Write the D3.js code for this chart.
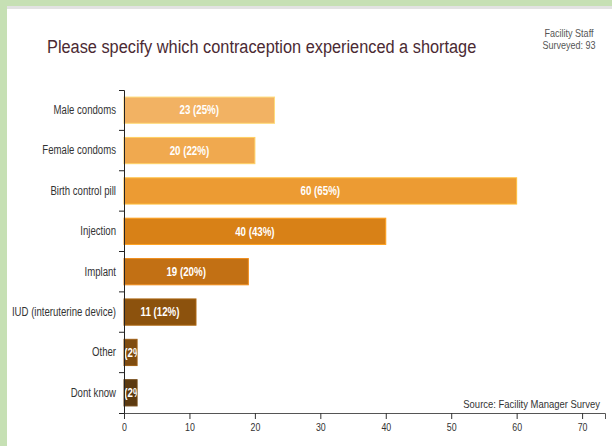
<!DOCTYPE html>
<html>
<head>
<meta charset="utf-8">
<script src="https://cdn.jsdelivr.net/npm/d3@7"></script>
<style>
  body { margin: 0; background: #fff; }
  text { font-family: "Liberation Sans", Arial, sans-serif; }
</style>
</head>
<body>
<div id="chart"></div>
<script>
// data
var categories = ["Male condoms", "Female condoms", "Birth control pill", "Injection",
                  "Implant", "IUD (interuterine device)", "Other", "Dont know"];
var counts = [23, 20, 60, 40, 19, 11, 2, 2];
var percents = [25, 22, 65, 43, 20, 12, 2, 2];
var barColors = ["#f2b263", "#f0a94f", "#ec9b33", "#d88117", "#c27014", "#8c520d", "#7f4c10", "#5c3a10"];
var xTicks = [0, 10, 20, 30, 40, 50, 60, 70];

var rows = categories.map(function(c, i) {
  return {name: c, n: counts[i], pct: percents[i], color: barColors[i]};
});

var W = 612, H = 446;
var margin = {top: 90, right: 7, bottom: 33, left: 124};

// the original font is a narrow sans, so squeeze the text horizontally
function squeeze(sel, k) {
  sel.each(function() {
    var len = this.getComputedTextLength();
    d3.select(this)
      .attr("textLength", len * k)
      .attr("lengthAdjust", "spacingAndGlyphs");
  });
}

var svg = d3.select("#chart")
  .append("svg")
    .attr("width", W)
    .attr("height", H);

// green frame at the top and left, grey shadow line
svg.append("rect").attr("x", 0).attr("y", 0).attr("width", W).attr("height", H).attr("fill", "#c6e0b4");
svg.append("rect").attr("x", 7).attr("y", 6).attr("width", W - 7).attr("height", H - 6).attr("fill", "#e2e2e2");
svg.append("rect").attr("x", 7).attr("y", 9).attr("width", W - 7).attr("height", H - 9).attr("fill", "#ffffff");

var x = d3.scaleLinear()
  .domain([0, d3.max(counts) * 1.225])
  .range([margin.left, W - margin.right]);

var y = d3.scaleBand()
  .domain(categories)
  .range([margin.top, H - margin.bottom])
  .paddingInner(0.35)
  .paddingOuter(0.175);

// title
svg.append("text")
  .attr("x", 47)
  .attr("y", 53)
  .style("font-size", "18px")
  .style("fill", "#4b2a33")
  .text("Please specify which contraception experienced a shortage")
  .call(squeeze, 0.907);

svg.append("text")
  .attr("x", 569)
  .attr("y", 37)
  .attr("text-anchor", "middle")
  .style("font-size", "10.5px")
  .style("fill", "#555")
  .text("Facility Staff")
  .call(squeeze, 0.86);
svg.append("text")
  .attr("x", 569)
  .attr("y", 49)
  .attr("text-anchor", "middle")
  .style("font-size", "10.5px")
  .style("fill", "#555")
  .text("Surveyed: 93")
  .call(squeeze, 0.86);

// bars, each label clipped to its bar
var defs = svg.append("defs");
defs.selectAll("clipPath")
  .data(rows)
  .enter()
  .append("clipPath")
    .attr("id", function(d, i) { return "clip" + i; })
  .append("rect")
    .attr("x", x(0))
    .attr("y", function(d) { return y(d.name); })
    .attr("width", function(d) { return x(d.n) - x(0); })
    .attr("height", y.bandwidth());

var bar = svg.append("g")
  .selectAll("g")
  .data(rows)
  .enter()
  .append("g");

bar.append("rect")
  .attr("x", x(0))
  .attr("y", function(d) { return y(d.name); })
  .attr("width", function(d) { return x(d.n) - x(0); })
  .attr("height", y.bandwidth())
  .style("fill", function(d) { return d.color; })
  .style("stroke", function(d) { return d3.color(d.color).brighter(0.6); })
  .style("stroke-width", 1);

bar.append("text")
  .attr("clip-path", function(d, i) { return "url(#clip" + i + ")"; })
  .attr("x", function(d) { return (x(0) + x(d.n)) / 2; })
  .attr("y", function(d) { return y(d.name) + y.bandwidth() / 2; })
  .attr("dy", "0.35em")
  .attr("text-anchor", "middle")
  .style("font-size", "12px")
  .style("font-weight", "bold")
  .style("fill", "#fff")
  .text(function(d) { return d.n + " (" + d.pct + "%)"; })
  .call(squeeze, 0.81);

// y axis: labels at band centres, ticks at band edges
var yAxis = svg.append("g")
  .attr("transform", "translate(" + x(0) + ",0)")
  .call(d3.axisLeft(y).tickSize(0).tickSizeOuter(5).tickPadding(8));
yAxis.select(".domain").attr("stroke", "#222");
yAxis.selectAll(".tick text")
  .style("font-size", "12px")
  .style("fill", "#333")
  .call(squeeze, 0.8);

svg.append("g")
  .selectAll("line")
  .data(categories.slice(1))
  .enter()
  .append("line")
    .attr("x1", x(0) - 5)
    .attr("x2", x(0))
    .attr("y1", function(d) { return y(d) - y.step() * y.paddingInner() / 2; })
    .attr("y2", function(d) { return y(d) - y.step() * y.paddingInner() / 2; })
    .attr("stroke", "#222");

// x axis
var xAxis = svg.append("g")
  .attr("transform", "translate(0," + (H - margin.bottom) + ")")
  .call(d3.axisBottom(x).tickValues(xTicks).tickSize(6).tickPadding(4));
xAxis.select(".domain").attr("stroke", "#555");
xAxis.selectAll(".tick line").attr("stroke", "#333");
xAxis.selectAll(".tick text")
  .style("font-size", "11px")
  .style("fill", "#333")
  .call(squeeze, 0.8);

// source note
svg.append("text")
  .attr("x", 600)
  .attr("y", 408)
  .attr("text-anchor", "end")
  .style("font-size", "11px")
  .style("fill", "#333")
  .text("Source: Facility Manager Survey")
  .call(squeeze, 0.86);
</script>
</body>
</html>
